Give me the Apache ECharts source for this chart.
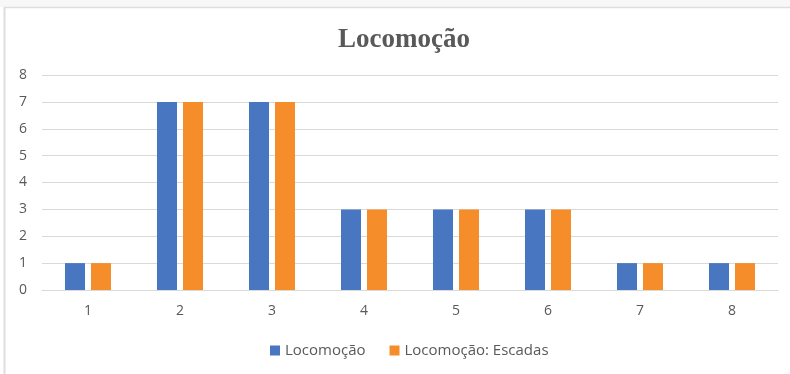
<!DOCTYPE html>
<html>
<head>
<meta charset="utf-8">
<script src="https://cdn.jsdelivr.net/npm/echarts@6/dist/echarts.min.js"></script>
<style>
  html, body { margin: 0; padding: 0; background: #ffffff; }
  #chart { width: 790px; height: 374px; }
</style>
</head>
<body>
<div id="chart"></div>
<script>
// Categories along the x axis
const categories = ['1', '2', '3', '4', '5', '6', '7', '8'];
// Series values
const locomocao = [1, 7, 7, 3, 3, 3, 1, 1];
const locomocaoEscadas = [1, 7, 7, 3, 3, 3, 1, 1];
// Value axis range
const yMin = 0;
const yMax = 8;
const yStep = 1;

const chart = echarts.init(document.getElementById('chart'));
const labelFont = '"Open Sans", "Noto Sans", sans-serif';

chart.setOption({
  animation: false,
  backgroundColor: '#ffffff',
  graphic: [
    { type: 'rect', left: 0, top: 0, shape: { width: 790, height: 7 }, style: { fill: '#f7f7f7' }, silent: true },
    { type: 'line', shape: { x1: 4.5, y1: 7, x2: 4.5, y2: 374 }, style: { stroke: '#dddddd', lineWidth: 2 }, silent: true },
    { type: 'line', shape: { x1: 4, y1: 7.5, x2: 790, y2: 7.5 }, style: { stroke: '#dddddd', lineWidth: 1.5 }, silent: true }
  ],
  title: {
    text: 'Locomoção',
    left: 333,
    top: 22,
    textStyle: {
      fontFamily: '"Liberation Serif", "DejaVu Serif", serif',
      fontWeight: 'bold',
      fontSize: 27,
      color: '#595959'
    }
  },
  legend: {
    bottom: 11,
    left: 265,
    itemWidth: 10,
    itemHeight: 10,
    itemGap: 24,
    icon: 'rect',
    textStyle: { fontFamily: labelFont, fontSize: 15, color: '#595959' },
    data: ['Locomoção', 'Locomoção: Escadas']
  },
  grid: { left: 42, right: 12, top: 75, bottom: 84 },
  xAxis: {
    type: 'category',
    data: categories,
    axisLine: { lineStyle: { color: '#d9d9d9' } },
    axisTick: { show: false },
    axisLabel: { fontFamily: labelFont, fontSize: 14, color: '#595959', margin: 14 }
  },
  yAxis: {
    type: 'value',
    min: yMin,
    max: yMax,
    interval: yStep,
    axisLine: { show: false },
    axisTick: { show: false },
    splitLine: { lineStyle: { color: '#d9d9d9' } },
    axisLabel: { fontFamily: labelFont, fontSize: 14, color: '#595959', margin: 15 }
  },
  series: [
    {
      name: 'Locomoção',
      type: 'bar',
      data: locomocao,
      barWidth: 20,
      barGap: '30%',
      itemStyle: { color: '#4876c0' }
    },
    {
      name: 'Locomoção: Escadas',
      type: 'bar',
      data: locomocaoEscadas,
      barWidth: 20,
      itemStyle: { color: '#f58d2b' }
    }
  ]
});
</script>
</body>
</html>
